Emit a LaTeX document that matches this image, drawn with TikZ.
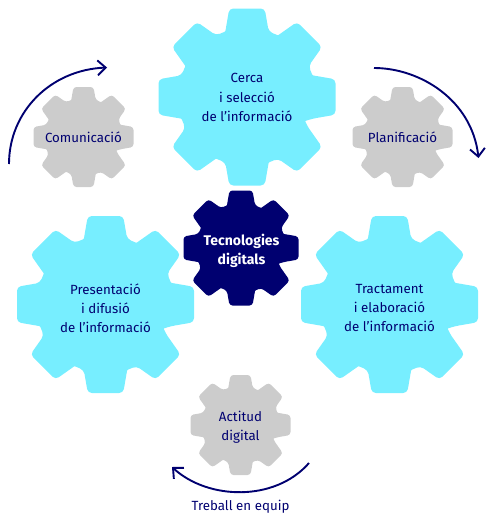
\documentclass[tikz,border=0pt]{standalone}
\usepackage{fontspec}
\setmainfont{Fira Sans}
\usetikzlibrary{arrows.meta}
\definecolor{gearcyan}{HTML}{77EEFF}
\definecolor{geargray}{HTML}{CCCCCC}
\definecolor{navy}{HTML}{000070}
\tikzset{
  gearlabel/.style={text=navy,align=center,font=\fontsize{13.3}{19.2}\selectfont,inner sep=0pt},
  flow/.style={draw=navy,line width=1.9pt,-{Straight Barb[length=8pt,width=15pt,line width=1.9pt]}},
}
\newcommand{\geartooth}[2]{[rounded corners=#2pt] -- ([rotate=#1]0.74,0.245) -- ([rotate=#1]1,0.2) -- ([rotate=#1]1,-0.2) [rounded corners=0.6pt] -- ([rotate=#1]0.74,-0.245)}
\newcommand{\gearshape}[5]{% x y R colour rounding
  \begin{scope}[shift={(#1,#2)},x=#3pt,y=-#3pt]
    \fill[#4,rounded corners=0.6pt] ([rotate=-22.5]0.71,0)
      \geartooth{0}{#5}\geartooth{45}{#5}\geartooth{90}{#5}\geartooth{135}{#5}\geartooth{180}{#5}\geartooth{225}{#5}\geartooth{270}{#5}\geartooth{315}{#5} -- cycle;
  \end{scope}}
\begin{document}
\begin{tikzpicture}[x=1pt,y=-1pt]
\useasboundingbox (0,0) rectangle (500,530);
\gearshape{247}{97}{88.5}{gearcyan}{4}
\gearshape{83.5}{137}{50}{geargray}{3}
\gearshape{402.5}{137}{50}{geargray}{3}
\gearshape{241}{248}{57.5}{navy}{3}
\gearshape{105.5}{304.5}{88.5}{gearcyan}{4}
\gearshape{389.5}{304.5}{88.5}{gearcyan}{4}
\gearshape{240.5}{425}{50}{geargray}{3}
\node[gearlabel] (cerca) at (247,97.5) {Cerca\\i selecció\\de l’informació};
\node[gearlabel] (comunicacio) at (83.5,137) {Comunicació};
\node[gearlabel] (planificacio) at (402.5,137) {Planificació};
\node[gearlabel,text=white,font=\fontsize{14}{19.2}\selectfont\bfseries] (tecno) at (241.5,250.5) {Tecnologies\\digitals};
\node[gearlabel] (presentacio) at (105.5,308) {Presentació\\i difusió\\de l’informació};
\node[gearlabel] (tractament) at (389.5,308) {Tractament\\i elaboració\\de l’informació};
\node[gearlabel] (actitud) at (240.5,427) {Actitud\\digital};
\node[gearlabel] (treball) at (240.5,507) {Treball en equip};
\coordinate (a1) at (9,164);
\coordinate (a2) at (107,67.5);
\coordinate (b1) at (374,68);
\coordinate (b2) at (478.5,158);
\coordinate (c1) at (309,463);
\coordinate (c2) at (172,467);
\draw[flow] (a1) .. controls (9,112) and (50,70) .. (a2);
\draw[flow] (b1) .. controls (420,68) and (472,100) .. (b2);
\draw[flow] (c1) .. controls (275,502) and (208,500) .. (c2);
\end{tikzpicture}
\end{document}
